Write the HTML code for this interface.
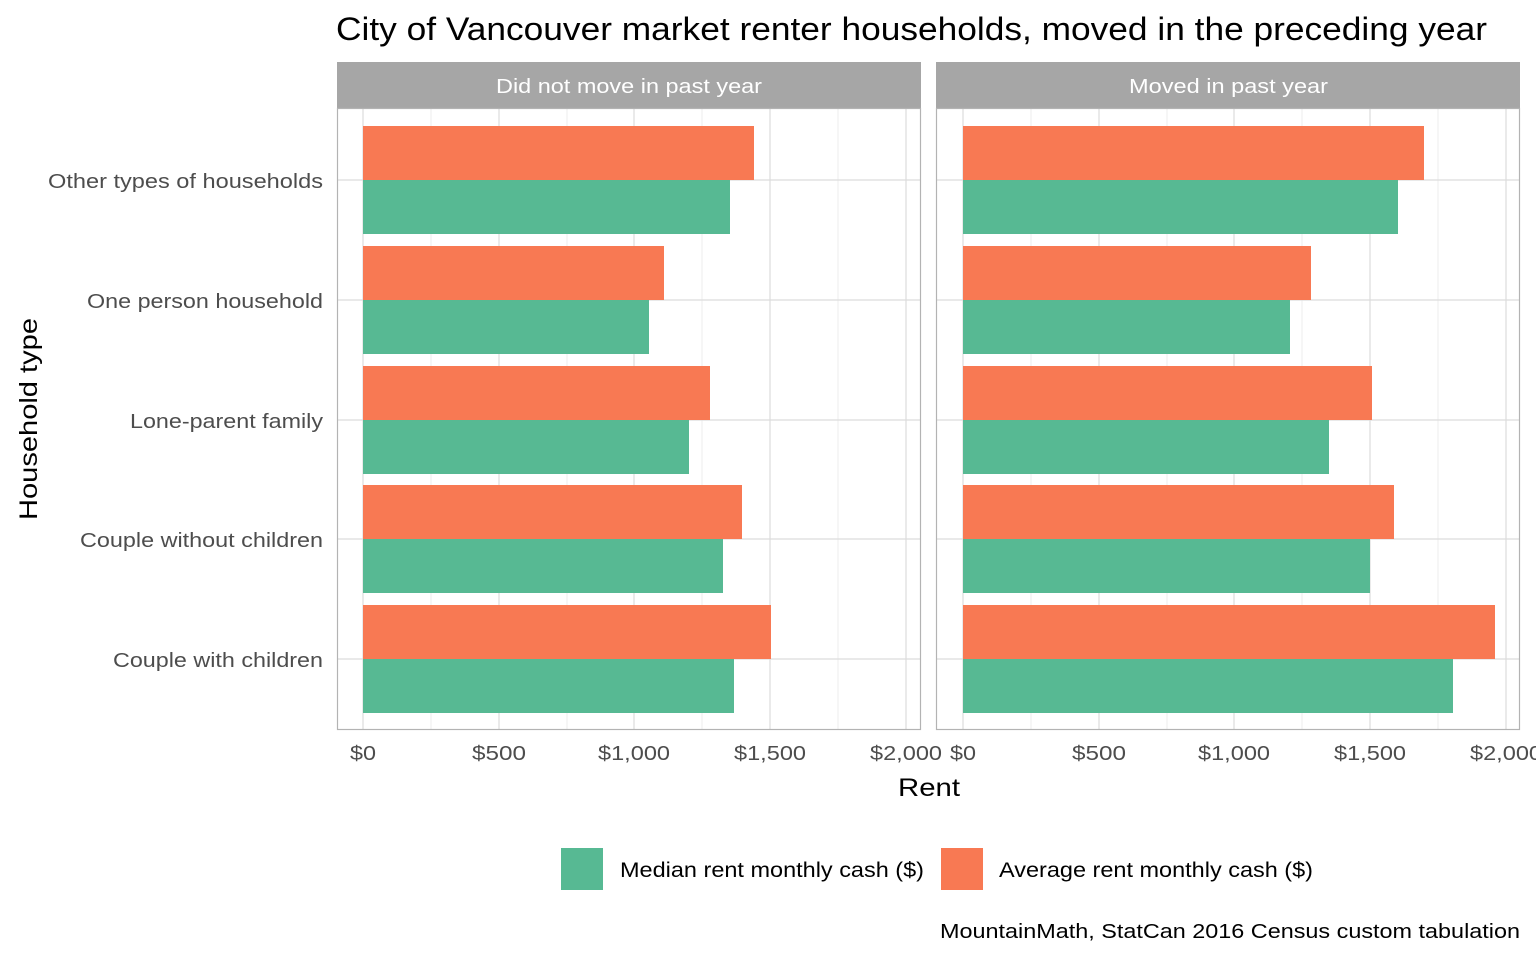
<!DOCTYPE html>
<html><head><style>body{margin:0;background:#fff}</style></head><body>
<svg width="1536" height="960" xmlns="http://www.w3.org/2000/svg" font-family="Liberation Sans, Arial, sans-serif">
<rect width="1536" height="960" fill="#fff"/>
<text x="336" y="40" font-size="32" fill="#000" textLength="1151" lengthAdjust="spacingAndGlyphs">City of Vancouver market renter households, moved in the preceding year</text>
<rect x="337" y="62" width="584" height="46" fill="#a6a6a6"/>
<rect x="936" y="62" width="584" height="46" fill="#a6a6a6"/>
<text x="496" y="93" font-size="20" fill="#fff" textLength="266" lengthAdjust="spacingAndGlyphs">Did not move in past year</text>
<text x="1129" y="93" font-size="20" fill="#fff" textLength="199" lengthAdjust="spacingAndGlyphs">Moved in past year</text>
<g stroke="#ececec" stroke-width="1">
<line x1="431" y1="108" x2="431" y2="730"/><line x1="567" y1="108" x2="567" y2="730"/><line x1="702" y1="108" x2="702" y2="730"/><line x1="838" y1="108" x2="838" y2="730"/>
<line x1="1031" y1="108" x2="1031" y2="730"/><line x1="1167" y1="108" x2="1167" y2="730"/><line x1="1302" y1="108" x2="1302" y2="730"/><line x1="1438" y1="108" x2="1438" y2="730"/>
</g>
<g stroke="#dcdcdc" stroke-width="1.2">
<line x1="363" y1="108" x2="363" y2="730"/><line x1="499" y1="108" x2="499" y2="730"/><line x1="634" y1="108" x2="634" y2="730"/><line x1="770" y1="108" x2="770" y2="730"/><line x1="906" y1="108" x2="906" y2="730"/>
<line x1="963" y1="108" x2="963" y2="730"/><line x1="1099" y1="108" x2="1099" y2="730"/><line x1="1234" y1="108" x2="1234" y2="730"/><line x1="1370" y1="108" x2="1370" y2="730"/><line x1="1506" y1="108" x2="1506" y2="730"/>
<line x1="337" y1="180" x2="921" y2="180"/><line x1="337" y1="300" x2="921" y2="300"/><line x1="337" y1="420" x2="921" y2="420"/><line x1="337" y1="539" x2="921" y2="539"/><line x1="337" y1="659" x2="921" y2="659"/>
<line x1="936" y1="180" x2="1520" y2="180"/><line x1="936" y1="300" x2="1520" y2="300"/><line x1="936" y1="420" x2="1520" y2="420"/><line x1="936" y1="539" x2="1520" y2="539"/><line x1="936" y1="659" x2="1520" y2="659"/>
</g>
<g fill="#f87953">
<rect x="363" y="126" width="391" height="54"/><rect x="363" y="246" width="301" height="54"/><rect x="363" y="366" width="347" height="54"/><rect x="363" y="485" width="379" height="54"/><rect x="363" y="605" width="408" height="54"/>
<rect x="963" y="126" width="461" height="54"/><rect x="963" y="246" width="348" height="54"/><rect x="963" y="366" width="409" height="54"/><rect x="963" y="485" width="431" height="54"/><rect x="963" y="605" width="532" height="54"/>
</g>
<g fill="#57b993">
<rect x="363" y="180" width="367" height="54"/><rect x="363" y="300" width="286" height="54"/><rect x="363" y="420" width="326" height="54"/><rect x="363" y="539" width="360" height="54"/><rect x="363" y="659" width="371" height="54"/>
<rect x="963" y="180" width="435" height="54"/><rect x="963" y="300" width="327" height="54"/><rect x="963" y="420" width="366" height="54"/><rect x="963" y="539" width="407" height="54"/><rect x="963" y="659" width="490" height="54"/>
</g>
<rect x="337.5" y="108.5" width="583" height="621" fill="none" stroke="#b3b3b3" stroke-width="1.2"/>
<rect x="936.5" y="108.5" width="583" height="621" fill="none" stroke="#b3b3b3" stroke-width="1.2"/>
<g font-size="20" fill="#4d4d4d" lengthAdjust="spacingAndGlyphs">
<text x="48" y="188" textLength="275" lengthAdjust="spacingAndGlyphs">Other types of households</text>
<text x="87" y="308" textLength="236" lengthAdjust="spacingAndGlyphs">One person household</text>
<text x="130" y="428" textLength="193" lengthAdjust="spacingAndGlyphs">Lone-parent family</text>
<text x="80" y="547" textLength="243" lengthAdjust="spacingAndGlyphs">Couple without children</text>
<text x="113" y="667" textLength="210" lengthAdjust="spacingAndGlyphs">Couple with children</text>
</g>
<g font-size="20" fill="#4d4d4d">
<text x="350" y="760" textLength="26" lengthAdjust="spacingAndGlyphs">$0</text><text x="472" y="760" textLength="54" lengthAdjust="spacingAndGlyphs">$500</text><text x="598" y="760" textLength="72" lengthAdjust="spacingAndGlyphs">$1,000</text><text x="734" y="760" textLength="72" lengthAdjust="spacingAndGlyphs">$1,500</text><text x="870" y="760" textLength="72" lengthAdjust="spacingAndGlyphs">$2,000</text>
<text x="950" y="760" textLength="26" lengthAdjust="spacingAndGlyphs">$0</text><text x="1072" y="760" textLength="54" lengthAdjust="spacingAndGlyphs">$500</text><text x="1198" y="760" textLength="72" lengthAdjust="spacingAndGlyphs">$1,000</text><text x="1334" y="760" textLength="72" lengthAdjust="spacingAndGlyphs">$1,500</text><text x="1470" y="760" textLength="72" lengthAdjust="spacingAndGlyphs">$2,000</text>
</g>
<text x="898" y="796" font-size="25" fill="#000" textLength="62" lengthAdjust="spacingAndGlyphs">Rent</text>
<text transform="translate(37,520) rotate(-90)" font-size="25" fill="#000" textLength="202" lengthAdjust="spacingAndGlyphs">Household type</text>
<rect x="561" y="848" width="42" height="42" fill="#57b993"/>
<text x="620" y="877" font-size="21" fill="#000" textLength="304" lengthAdjust="spacingAndGlyphs">Median rent monthly cash ($)</text>
<rect x="941" y="848" width="42" height="42" fill="#f87953"/>
<text x="999" y="877" font-size="21" fill="#000" textLength="314" lengthAdjust="spacingAndGlyphs">Average rent monthly cash ($)</text>
<text x="940" y="938" font-size="20" fill="#000" textLength="580" lengthAdjust="spacingAndGlyphs">MountainMath, StatCan 2016 Census custom tabulation</text>
</svg>
</body></html>
